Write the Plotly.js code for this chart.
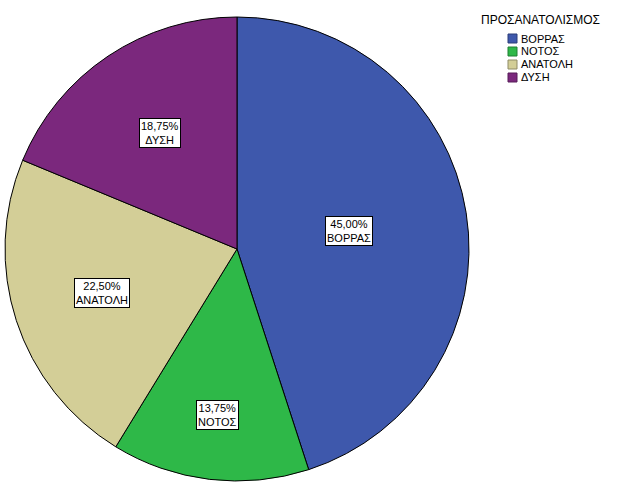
<!DOCTYPE html>
<html><head><meta charset="utf-8">
<script src="https://cdn.plot.ly/plotly-3.0.1.min.js"></script>
<style>html,body{margin:0;padding:0;background:#fff}</style>
</head><body><div id="chart" style="width:626px;height:501px"></div>
<script>
var categories = ["ΒΟΡΡΑΣ", "ΝΟΤΟΣ", "ΑΝΑΤΟΛΗ", "ΔΥΣΗ"];
var percents = [45.00, 13.75, 22.50, 18.75];
var colors = ["#3E58AC", "#2EB848", "#D3CE97", "#7B287D"];
var borderColors = ["#2a3d78", "#1f7f32", "#8f8b66", "#561c58"];
var legendTitle = "ΠΡΟΣΑΝΑΤΟΛΙΣΜΟΣ";
var labelRadius = [0.49, 0.72, 0.61, 0.60];

var W = 626, H = 501;
var dom = {x: [5 / W, 469 / W], y: [1 - 481 / H, 1 - 17 / H]};

function fmt(v) { return v.toFixed(2).replace(".", ","); }

var trace = {
  type: "pie",
  labels: categories,
  values: percents,
  sort: false,
  direction: "clockwise",
  rotation: 0,
  textinfo: "none",
  hoverinfo: "label+percent",
  marker: {colors: colors, line: {color: "#000000", width: 1}},
  domain: dom,
  showlegend: false
};

var annotations = [];
var shapes = [];
var total = percents.reduce(function (a, b) { return a + b; }, 0);
var cx = (dom.x[0] + dom.x[1]) / 2, cy = (dom.y[0] + dom.y[1]) / 2;
var rpx = Math.min((dom.x[1] - dom.x[0]) * W, (dom.y[1] - dom.y[0]) * H) / 2;
var cum = 0;
percents.forEach(function (v, i) {
  var mid = (cum + v / 2) / total * 2 * Math.PI;
  cum += v;
  var r = rpx * labelRadius[i];
  annotations.push({
    xref: "paper", yref: "paper",
    x: cx + r * Math.sin(mid) / W,
    y: cy + r * Math.cos(mid) / H,
    text: fmt(100 * v / total) + "%<br>" + categories[i],
    showarrow: false,
    font: {family: "Liberation Sans, Arial, sans-serif", size: 11, color: "#000"},
    bgcolor: "#ffffff", bordercolor: "#000000", borderwidth: 1, borderpad: 1,
    xanchor: "center", yanchor: "middle"
  });
});

// legend (title + swatches)
annotations.push({
  xref: "paper", yref: "paper", x: 540 / W, y: 1 - 20 / H,
  text: legendTitle, showarrow: false,
  font: {family: "Liberation Sans, Arial, sans-serif", size: 12, color: "#000"},
  xanchor: "center", yanchor: "middle"
});
categories.forEach(function (c, i) {
  var y0 = 34 + i * 13;
  shapes.push({
    type: "rect", xref: "paper", yref: "paper",
    x0: 508 / W, x1: 517 / W, y0: 1 - y0 / H, y1: 1 - (y0 + 9) / H,
    fillcolor: colors[i], line: {color: borderColors[i], width: 1}
  });
  annotations.push({
    xref: "paper", yref: "paper", x: 519 / W, y: 1 - (y0 + 4.5) / H,
    text: c, showarrow: false,
    font: {family: "Liberation Sans, Arial, sans-serif", size: 11, color: "#000"},
    xanchor: "left", yanchor: "middle"
  });
});

var layout = {
  width: W, height: H,
  margin: {l: 0, r: 0, t: 0, b: 0},
  paper_bgcolor: "#ffffff",
  showlegend: false,
  annotations: annotations,
  shapes: shapes
};
Plotly.newPlot("chart", [trace], layout, {staticPlot: true});
</script></body></html>
